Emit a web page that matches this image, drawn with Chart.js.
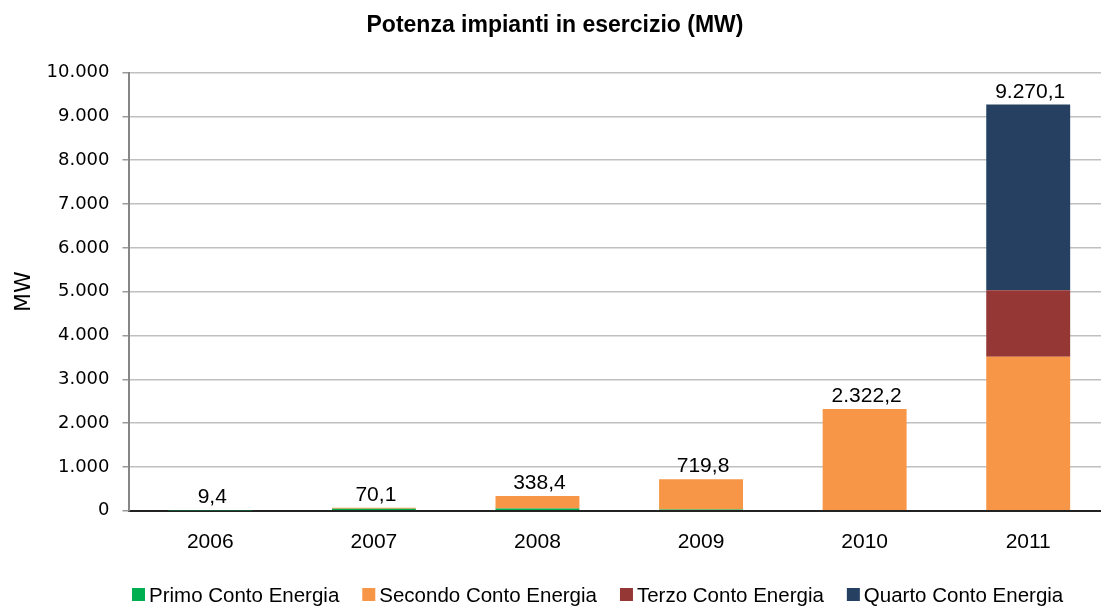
<!DOCTYPE html>
<html>
<head>
<meta charset="utf-8">
<script src="https://cdn.jsdelivr.net/npm/chart.js@4/dist/chart.umd.min.js"></script>
<style>
html, body { margin: 0; padding: 0; background: #fff; overflow: hidden; }
canvas { display: block; }
</style>
</head>
<body>
<canvas id="chart" width="1110" height="606"></canvas>
<script>
"use strict";
// anni e potenza (MW) per conto energia
var years   = ['2006', '2007', '2008', '2009', '2010', '2011'];
var primo   = [9.4, 45.0, 50.0, 30.0, 0, 0];
var secondo = [0, 25.1, 288.4, 689.8, 2322.2, 3515.0];
var terzo   = [0, 0, 0, 0, 0, 1520.0];
var quarto  = [0, 0, 0, 0, 0, 4235.1];
var yTicks  = [0, 1000, 2000, 3000, 4000, 5000, 6000, 7000, 8000, 9000, 10000];

function fmtIt(v, dec) {
    var parts = v.toFixed(dec).split('.');
    var intPart = parts[0].replace(/\B(?=(\d{3})+(?!\d))/g, '.');
    return parts.length > 1 ? intPart + ',' + parts[1] : intPart;
}

var totalsPlugin = {
    id: 'totals',
    afterDatasetsDraw: function(chart) {
        var ctx = chart.ctx;
        var xs = chart.scales.x, ys = chart.scales.y;
        ctx.save();
        ctx.font = '21px "Liberation Sans", Arial, sans-serif';
        ctx.fillStyle = '#000';
        ctx.textAlign = 'center';
        ctx.textBaseline = 'alphabetic';
        chart.data.labels.forEach(function(lab, i) {
            var tot = 0;
            chart.data.datasets.forEach(function(ds) { tot += ds.data[i]; });
            ctx.fillText(fmtIt(tot, 1), xs.getPixelForValue(i) + 2, ys.getPixelForValue(tot) - 7);
        });
        ctx.restore();
    }
};

var legendPlugin = {
    id: 'bottomLegend',
    afterDraw: function(chart) {
        var ctx = chart.ctx;
        var x = 132;
        ctx.save();
        ctx.font = '20.5px "Liberation Sans", Arial, sans-serif';
        ctx.textBaseline = 'alphabetic';
        ctx.textAlign = 'left';
        chart.data.datasets.forEach(function(ds) {
            ctx.fillStyle = ds.backgroundColor;
            ctx.fillRect(x, 588, 13, 13);
            ctx.fillStyle = '#000';
            ctx.fillText(ds.label, x + 17, 601.5);
            x += 17 + ctx.measureText(ds.label).width + 23;
        });
        ctx.restore();
    }
};

new Chart(document.getElementById('chart').getContext('2d'), {
    type: 'bar',
    data: {
        labels: years,
        datasets: [
            { label: 'Primo Conto Energia',   data: primo,   backgroundColor: '#00B050' },
            { label: 'Secondo Conto Energia', data: secondo, backgroundColor: '#F79646' },
            { label: 'Terzo Conto Energia',   data: terzo,   backgroundColor: '#953735' },
            { label: 'Quarto Conto Energia',  data: quarto,  backgroundColor: '#254061' }
        ]
    },
    options: {
        responsive: false,
        animation: false,
        layout: { padding: { left: 0, right: 0, top: 0, bottom: 32 } },
        datasets: { bar: { barPercentage: 0.513, categoryPercentage: 1 } },
        plugins: {
            legend: { display: false },
            tooltip: { enabled: false },
            title: {
                display: true,
                text: 'Potenza impianti in esercizio (MW)',
                color: '#000',
                font: { family: '"Liberation Sans", Arial, sans-serif', size: 23, weight: 'bold', lineHeight: 1.2 },
                padding: { top: 12, bottom: 33 }
            }
        },
        scales: {
            x: {
                stacked: true,
                grid: { display: false, drawTicks: false },
                border: { color: '#222', width: 2 },
                ticks: { color: '#000', font: { family: '"Liberation Sans", Arial, sans-serif', size: 21 }, padding: 19 }
            },
            y: {
                stacked: true,
                min: 0,
                max: 10000,
                afterBuildTicks: function(scale) {
                    scale.ticks = yTicks.map(function(v) { return { value: v }; });
                },
                afterFit: function(scale) { scale.width = 128.5; },
                grid: { color: '#c0c0c0', lineWidth: 1.5, tickLength: 6, tickColor: '#9a9a9a' },
                border: { color: '#868686', width: 2 },
                ticks: {
                    color: '#000',
                    font: { family: '"DejaVu Sans", Verdana, sans-serif', size: 18 },
                    padding: 13,
                    callback: function(v) { return fmtIt(v, 0); }
                },
                title: {
                    display: true,
                    text: 'MW',
                    color: '#000',
                    font: { family: '"DejaVu Sans", Verdana, sans-serif', size: 22 },
                    padding: { top: 11, bottom: 0 }
                }
            }
        }
    },
    plugins: [totalsPlugin, legendPlugin]
});
</script>
</body>
</html>
